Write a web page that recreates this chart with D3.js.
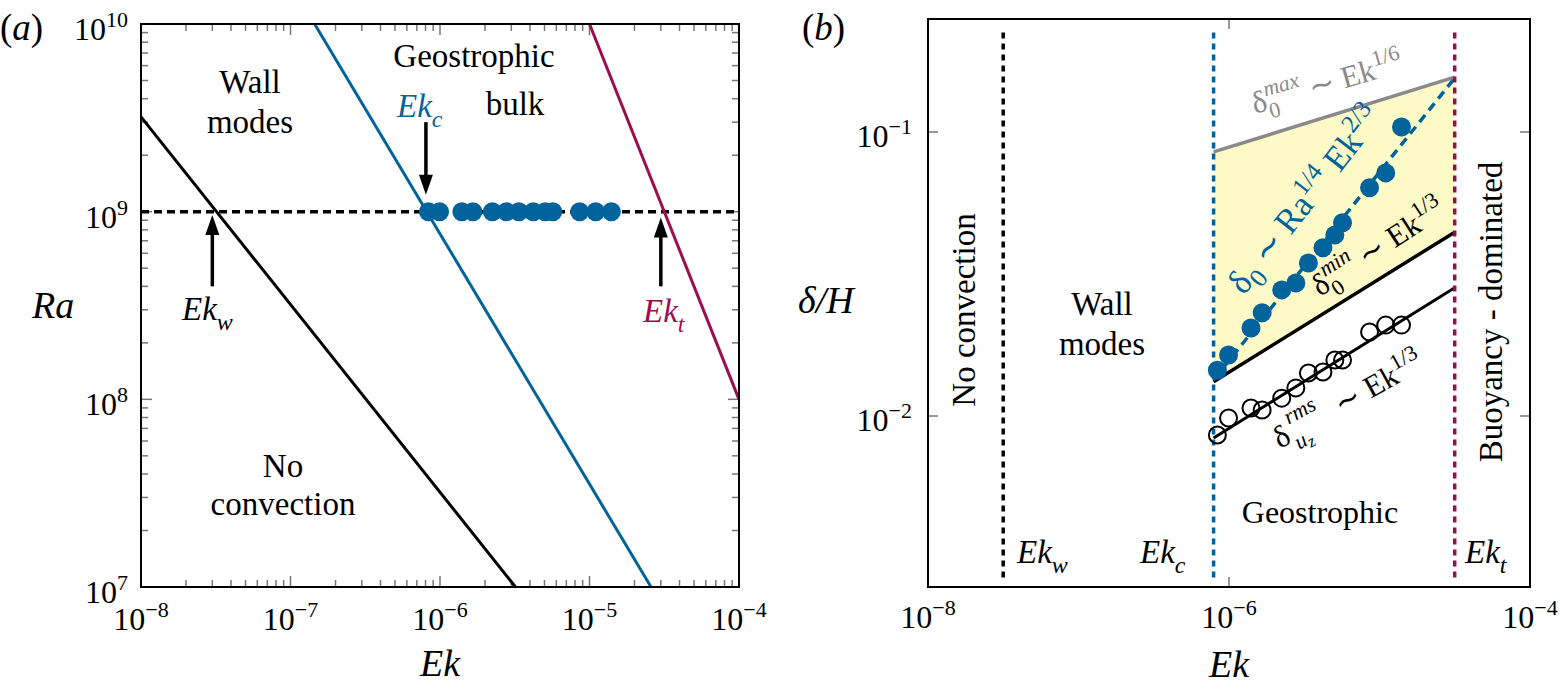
<!DOCTYPE html>
<html><head><meta charset="utf-8">
<script src="https://cdn.jsdelivr.net/npm/d3@7"></script>
<style>body{margin:0;background:#fff}</style>
</head><body>
<svg id="c" width="1560" height="689"></svg>
<script>
// ---------- data ----------
const ekTicksA = [1e-8, 1e-7, 1e-6, 1e-5, 1e-4];
const raTicks = [1e7, 1e8, 1e9, 1e10];
const ekTicksB = [1e-8, 1e-6, 1e-4];
const deltaTicks = [1e-2, 1e-1];

const raFixed = 1e9;
const ekRuns = [8.37e-7, 9.93e-7, 1.40e-6, 1.66e-6, 2.24e-6, 2.78e-6, 3.37e-6, 4.21e-6, 5.05e-6, 5.68e-6, 8.59e-6, 1.10e-5, 1.40e-5];
const delta0 = [0.0145, 0.0164, 0.0204, 0.0231, 0.0278, 0.0294, 0.0346, 0.0391, 0.0434, 0.0479, 0.0636, 0.0718, 0.1042];
const deltaRms = [0.00857, 0.00984, 0.01067, 0.0105, 0.01156, 0.01256, 0.01417, 0.01429, 0.01574, 0.01574, 0.01977, 0.0209, 0.0209];

// regime boundaries in (a): [Ek, Ra]
const lineWall = [[1e-8, 3.2e9], [3.2e-6, 1e7]];
const lineBulk = [[1.45e-7, 1e10], [2.58e-5, 1e7]];
const lineTrans = [[1e-5, 1e10], [1e-4, 1e8]];

const ekW = 3.16e-8, ekC = 7.9e-7, ekT = 3.16e-5;
// arrows in (a): Ek, Ra start, Ra tip
const arrows = [
  {ek: 3.0e-8, from: 4.0e8, to: 9.6e8},
  {ek: 8.05e-7, from: 3.0e9, to: 1.23e9},
  {ek: 3.0e-5, from: 4.0e8, to: 9.3e8}
];

// scaling lines in (b): [Ek, delta/H]
const fitDelta0 = [[ekC, 0.0134], [ekT, 0.155]];
const maxLine = [[ekC, 0.0851], [ekT, 0.156]];
const minLine = [[ekC, 0.0132], [ekT, 0.0444]];
const rmsLine = [[ekC, 0.00837], [ekT, 0.0283]];
const vRange = [0.0027, 0.232];

// ---------- styles ----------
const BLUE = '#00639b', MAROON = '#9c0d50', GRAY = '#8a8a8a', YELLOW = '#fefac8';

const svg = d3.select('#c');
const isPow = v => Math.abs(Math.log10(v) - Math.round(Math.log10(v))) < 1e-6;

// inward ticks on all four sides, drawn from the scales
function addTicks(g, xs, ys, xVals, yVals, len) {
  const [x0, x1] = xs.range(), [y0, y1] = ys.range();
  const tg = g.append('g').attr('stroke', '#777').attr('stroke-width', 1.5);
  xVals.forEach(v => {
    const x = xs(v);
    tg.append('line').attr('x1', x).attr('x2', x).attr('y1', y0).attr('y2', y0 - len);
    tg.append('line').attr('x1', x).attr('x2', x).attr('y1', y1).attr('y2', y1 + len);
  });
  yVals.forEach(v => {
    const y = ys(v);
    tg.append('line').attr('x1', x0).attr('x2', x0 + len).attr('y1', y).attr('y2', y);
    tg.append('line').attr('x1', x1).attr('x2', x1 - len).attr('y1', y).attr('y2', y);
  });
}
function frame(g, xs, ys) {
  const [x0, x1] = xs.range(), [y0, y1] = ys.range();
  g.append('rect').attr('x', x0).attr('y', y1).attr('width', x1 - x0).attr('height', y0 - y1)
    .attr('fill', 'none').attr('stroke', '#000').attr('stroke-width', 2);
}
function T() {
  return svg.append('text').attr('font-family', '"Liberation Serif"');
}
function pow10(x, y, v, anchor) {
  const e = Math.round(Math.log10(v));
  const t = T().attr('x', x).attr('y', y).attr('text-anchor', anchor).attr('font-size', 32);
  t.append('tspan').text('10');
  t.append('tspan').attr('dy', -13).attr('font-size', 22).text(e < 0 ? '\u2212' + (-e) : String(e));
}
function plain(x, y, s, size, anchor, color) {
  return T().attr('x', x).attr('y', y).attr('font-size', size)
    .attr('text-anchor', anchor || 'start').attr('fill', color || '#000').text(s);
}
function ekLabel(x, y, sub, color) {
  const t = T().attr('x', x).attr('y', y).attr('font-size', 33)
    .attr('font-style', 'italic').attr('fill', color);
  t.append('tspan').text('Ek');
  t.append('tspan').attr('dy', 10).attr('font-size', 24).text(sub);
}
function panelLabel(x, y, letter) {
  const t = T().attr('x', x).attr('y', y).attr('font-size', 37);
  t.append('tspan').text('(');
  t.append('tspan').attr('font-style', 'italic').text(letter);
  t.append('tspan').text(')');
}

// ================= panel (a) =================
const A = svg.append('g');
const xA = d3.scaleLog().domain([1e-8, 1e-4]).range([141, 739]);
const yA = d3.scaleLog().domain([1e7, 1e10]).range([587, 24]);
const xMinorA = xA.ticks().filter(v => !isPow(v));
const yMinorA = yA.ticks().filter(v => !isPow(v));
addTicks(A, xA, yA, xMinorA, yMinorA, 7);
addTicks(A, xA, yA, ekTicksA, raTicks, 11);

const lA = d3.line().x(d => xA(d[0])).y(d => yA(d[1]));
A.append('line').attr('x1', xA(1e-8)).attr('x2', xA(1e-4)).attr('y1', yA(raFixed)).attr('y2', yA(raFixed))
  .attr('stroke', '#000').attr('stroke-width', 3.5).attr('stroke-dasharray', '8,5');
A.append('path').attr('d', lA(lineWall)).attr('stroke', '#000').attr('stroke-width', 3).attr('fill', 'none');
A.append('path').attr('d', lA(lineBulk)).attr('stroke', BLUE).attr('stroke-width', 3).attr('fill', 'none');
A.append('path').attr('d', lA(lineTrans)).attr('stroke', MAROON).attr('stroke-width', 3).attr('fill', 'none');

A.selectAll('circle.run').data(ekRuns).enter().append('circle')
  .attr('cx', d => xA(d)).attr('cy', yA(raFixed)).attr('r', 9.5).attr('fill', BLUE);

arrows.forEach(a => {
  const x = xA(a.ek), y0 = yA(a.from), y1 = yA(a.to);
  const dir = y1 < y0 ? -1 : 1; // -1 up
  const headL = 20, headW = 7;
  A.append('line').attr('x1', x).attr('x2', x).attr('y1', y0).attr('y2', y1 - dir * headL + dir * 2)
    .attr('stroke', '#000').attr('stroke-width', 3.5);
  A.append('path').attr('d', `M${x},${y1} L${x - headW},${y1 - dir * headL} L${x + headW},${y1 - dir * headL} Z`).attr('fill', '#000');
});
frame(A, xA, yA);

// ================= panel (b) =================
const B = svg.append('g');
const xB = d3.scaleLog().domain([1e-8, 1e-4]).range([928, 1530]);
const yB = d3.scaleLog().domain([0.0025, 0.25]).range([587, 19]);
addTicks(B, xB, yB, ekTicksB, deltaTicks, 10);
const lB = d3.line().x(d => xB(d[0])).y(d => yB(d[1]));

const band = maxLine.concat(minLine.slice().reverse());
B.append('path').attr('d', lB(band) + 'Z').attr('fill', YELLOW).attr('stroke', 'none');

B.append('path').attr('d', lB(maxLine)).attr('stroke', GRAY).attr('stroke-width', 3.5).attr('fill', 'none');
B.append('path').attr('d', lB(minLine)).attr('stroke', '#000').attr('stroke-width', 3.5).attr('fill', 'none');
B.append('path').attr('d', lB(rmsLine)).attr('stroke', '#000').attr('stroke-width', 3).attr('fill', 'none');
B.append('path').attr('d', lB(fitDelta0)).attr('stroke', BLUE).attr('stroke-width', 3.5)
  .attr('fill', 'none').attr('stroke-dasharray', '9,6');

[[ekW, '#000'], [ekC, BLUE], [ekT, MAROON]].forEach(([e, c]) => {
  B.append('line').attr('x1', xB(e)).attr('x2', xB(e)).attr('y1', yB(vRange[0])).attr('y2', yB(vRange[1]))
    .attr('stroke', c).attr('stroke-width', 3.5).attr('stroke-dasharray', '6,5');
});

B.selectAll('circle.rms').data(ekRuns).enter().append('circle')
  .attr('cx', d => xB(d)).attr('cy', (d, i) => yB(deltaRms[i])).attr('r', 8.5)
  .attr('fill', 'none').attr('stroke', '#000').attr('stroke-width', 2);
B.selectAll('circle.d0').data(ekRuns).enter().append('circle')
  .attr('cx', d => xB(d)).attr('cy', (d, i) => yB(delta0[i])).attr('r', 9.5).attr('fill', BLUE);
frame(B, xB, yB);

// ================= texts =================
ekLabel(182, 320, 'w', '#000');
ekLabel(397, 117, 'c', BLUE);
ekLabel(643, 322, 't', MAROON);
plain(250, 93, 'Wall', 33, 'middle');
plain(250, 133, 'modes', 33, 'middle');
plain(283, 477, 'No', 33, 'middle');
plain(283, 515, 'convection', 33, 'middle');
plain(474, 67, 'Geostrophic', 33, 'middle');
plain(515, 115, 'bulk', 33, 'middle');
raTicks.forEach(v => pow10(128, yA(v) + 16, v, 'end'));
ekTicksA.forEach(v => pow10(xA(v), 630, v, 'middle'));
plain(32, 318, 'Ra', 38).attr('font-style', 'italic');
plain(440, 676, 'Ek', 38, 'middle').attr('font-style', 'italic');
panelLabel(0, 40, 'a');

function rotLabel(x, y, ang, color, size, build) {
  const t = T().attr('transform', `translate(${x},${y}) rotate(${ang})`)
    .attr('font-size', size).attr('fill', color);
  build(t);
}
rotLabel(1255, 114, -16, GRAY, 31, t => {
  t.append('tspan').text('\u03b4');
  t.append('tspan').attr('dy', 9).attr('font-size', 22).text('0');
  t.append('tspan').attr('dx', -11).attr('dy', -23).attr('font-size', 22).attr('font-style', 'italic').text('max');
  t.append('tspan').attr('dy', 14).text(' \u223c Ek');
  t.append('tspan').attr('dy', -13).attr('font-size', 22).text('1/6');
});
rotLabel(1244, 296, -52, BLUE, 35, t => {
  t.append('tspan').text('\u03b4');
  t.append('tspan').attr('dy', 9).attr('font-size', 26).text('0');
  t.append('tspan').attr('dy', -9).text(' \u223c Ra');
  t.append('tspan').attr('dy', -14).attr('font-size', 25).text('1/4');
  t.append('tspan').attr('dy', 14).text(' Ek');
  t.append('tspan').attr('dy', -14).attr('font-size', 25).text('2/3');
});
rotLabel(1320, 297, -33, '#000', 31, t => {
  t.append('tspan').text('\u03b4');
  t.append('tspan').attr('dy', 9).attr('font-size', 22).text('0');
  t.append('tspan').attr('dx', -11).attr('dy', -23).attr('font-size', 22).attr('font-style', 'italic').text('min');
  t.append('tspan').attr('dy', 14).text(' \u223c Ek');
  t.append('tspan').attr('dy', -13).attr('font-size', 22).text('1/3');
});
rotLabel(1280, 449, -29, '#000', 31, t => {
  t.append('tspan').text('\u03b4');
  t.append('tspan').attr('dx', 2).attr('dy', 10).attr('font-size', 22).attr('font-style', 'italic').text('u');
  t.append('tspan').attr('dy', 4).attr('font-size', 17).attr('font-style', 'italic').text('z');
  t.append('tspan').attr('dx', -15).attr('dy', -31).attr('font-size', 22).attr('font-style', 'italic').text('rms');
  t.append('tspan').attr('dx', 10).attr('dy', 17).text(' \u223c Ek');
  t.append('tspan').attr('dy', -13).attr('font-size', 22).text('1/3');
});
T().attr('transform', 'translate(975,310) rotate(-90)').attr('font-size', 33)
  .attr('text-anchor', 'middle').text('No convection');
T().attr('transform', 'translate(1502,312) rotate(-90)').attr('font-size', 33)
  .attr('text-anchor', 'middle').text('Buoyancy - dominated');
plain(1102, 315, 'Wall', 33, 'middle');
plain(1102, 355, 'modes', 33, 'middle');
plain(1320, 523, 'Geostrophic', 32, 'middle');
ekLabel(1017, 563, 'w', '#000');
ekLabel(1140, 563, 'c', '#000');
ekLabel(1465, 563, 't', '#000');
deltaTicks.forEach(v => pow10(912, yB(v) + 15, v, 'end'));
ekTicksB.forEach(v => pow10(xB(v), 628, v, 'middle'));
T().attr('x', 798).attr('y', 313).attr('font-size', 38).attr('font-style', 'italic').text('\u03b4/H');
plain(1229, 677, 'Ek', 38, 'middle').attr('font-style', 'italic');
panelLabel(802, 40, 'b');
</script>
</body></html>
